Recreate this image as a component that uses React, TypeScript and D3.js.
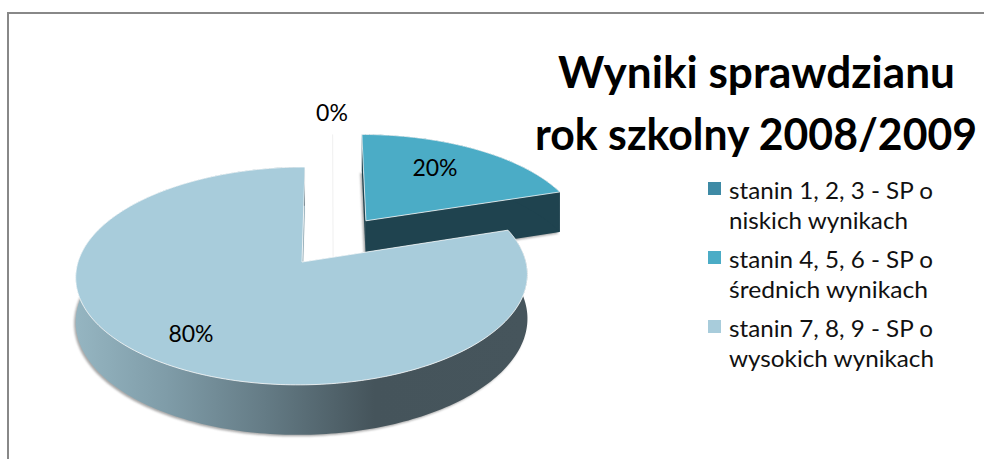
import React from "react";
import * as d3 from "d3";

const categories = [
  "stanin 1, 2, 3 - SP o|niskich wynikach",
  "stanin 4, 5, 6 - SP o|średnich wynikach",
  "stanin 7, 8, 9 - SP o|wysokich wynikach",
];
const values = [0, 20, 80];
const valueLabels = ["0%", "20%", "80%"];
const titleLines = ["Wyniki sprawdzianu", "rok szkolny 2008/2009"];

const FONT = "Lato, Carlito, 'Open Sans', sans-serif";
const CX = 302, CY = 262, A = 224, B = 73.6, K = -0.128, SKEW = -3.4, DEPTH = 43.6;
const EXPLODE = 0.5;

type P = [number, number];
const project = (u: number, v: number, drop = 0): P => {
  const d = 1 + K * v;
  return [CX + (A * u + SKEW * v) / d, (CY + B * v + drop) / d];
};
const polar = (ang: number, r = 1): P => [Math.sin(ang) * r, -Math.cos(ang) * r];
const line = d3.line<P>().x((p) => p[0]).y((p) => p[1]);

const pie = d3.pie<number>().sort(null).value((d) => d);
const slices = pie(values);

function arcPts(a0: number, a1: number, ox: number, oy: number, drop = 0): P[] {
  const n = Math.max(2, Math.ceil((a1 - a0) / 0.02));
  return d3.range(n + 1).map((i) => {
    const a = a0 + ((a1 - a0) * i) / n;
    const [u, v] = polar(a);
    return project(u + ox, v + oy, drop);
  });
}

function Slice({ a0, a1, ox, oy, top, side, cutFill, id }: { a0: number; a1: number; ox: number; oy: number; top: string; side: string; cutFill: string; id: string }) {
  const topArc = arcPts(a0, a1, ox, oy);
  const botArc = arcPts(a0, a1, ox, oy, DEPTH);
  const apex = project(ox, oy);
  const apexB = project(ox, oy, DEPTH);
  const wall = [...topArc, ...botArc.slice().reverse()];
  const cut0 = [apex, topArc[0], botArc[0], apexB];
  const cut1 = [apex, topArc[topArc.length - 1], botArc[botArc.length - 1], apexB];
  const shadowPts = [apexB, ...botArc].map((p) => [p[0] - 1.5, p[1] + 1.5] as P);
  return (
    <g data-slice={id}>
      <path d={line(shadowPts) + "Z"} fill="#8a8a8a" opacity={0.75} filter="url(#soft)" />
      <path d={line(cut0) + "Z"} fill={cutFill} />
      <path d={line(cut1) + "Z"} fill={cutFill} />
      <path d={line(wall) + "Z"} fill={side} />
      <path d={line([apex, ...topArc]) + "Z"} fill={top} stroke="#ffffff" strokeOpacity={0.75} strokeWidth={1} strokeLinejoin="round" />
    </g>
  );
}

export default function App() {
  const x20 = polar((slices[1].startAngle + slices[1].endAngle) / 2, EXPLODE);
  const zeroTop = project(0.14, x20[1] - 1);
  const zeroBot = project(0.14, x20[1], DEPTH);
  const legendColors = ["#3e8aa5", "#4bacc6", "#a8ccdb"];
  const legendY = [182, 251, 320];
  const lineWidths = [[204, 179], [204, 199], [204, 205]];
  return (
    <svg width={984} height={459} style={{ position: "absolute", left: 0, top: 0, background: "#fff" }}>
      <defs>
        <linearGradient id="wallGrad" gradientUnits="userSpaceOnUse" x1={76} x2={528} y1={0} y2={0}>
          <stop offset="0" stopColor="#95b5c1" />
          <stop offset="0.2" stopColor="#7f9ca8" />
          <stop offset="0.42" stopColor="#647b85" />
          <stop offset="0.66" stopColor="#45545b" />
          <stop offset="1" stopColor="#46555c" />
        </linearGradient>
        <filter id="soft" x="-5%" y="-5%" width="110%" height="110%">
          <feGaussianBlur stdDeviation="1" />
        </filter>
      </defs>

      <path d="M8 459V13H984" fill="none" stroke="#888888" strokeWidth={2} />

      <path d={line([zeroTop, zeroBot]) ?? ""} stroke="#f0f0f0" strokeWidth={1} fill="none" />

      <Slice id="20" a0={slices[1].startAngle} a1={slices[1].endAngle} ox={x20[0]} oy={x20[1]} top="#4bacc6" side="#1f434f" cutFill="#1f434f" />
      <Slice id="80" a0={slices[2].startAngle} a1={slices[2].endAngle} ox={0} oy={0} top="#a8ccdb" side="url(#wallGrad)" cutFill="#8ea9b4" />

      <g fontFamily={FONT} fontSize={23} fill="#000" textAnchor="middle">
        <text x={332} y={121}>{valueLabels[0]}</text>
        <text x={435} y={176}>{valueLabels[1]}</text>
        <text x={191} y={342}>{valueLabels[2]}</text>
      </g>

      <g fontFamily={FONT} fontWeight={700} fontSize={43.5} fill="#000">
        <text x={558} y={88} textLength={397} lengthAdjust="spacingAndGlyphs">{titleLines[0]}</text>
        <text x={535} y={150} textLength={442} lengthAdjust="spacingAndGlyphs">{titleLines[1]}</text>
      </g>

      {categories.map((c, i) => {
        const [l1, l2] = c.split("|");
        return (
          <g key={c}>
            <rect x={708} y={legendY[i]} width={13} height={13} fill={legendColors[i]} />
            <text x={729} y={legendY[i] + 17} fontFamily={FONT} fontSize={23} fill="#111" textLength={lineWidths[i][0]} lengthAdjust="spacingAndGlyphs">{l1}</text>
            <text x={729} y={legendY[i] + 47} fontFamily={FONT} fontSize={23} fill="#111" textLength={lineWidths[i][1]} lengthAdjust="spacingAndGlyphs">{l2}</text>
          </g>
        );
      })}
    </svg>
  );
}
